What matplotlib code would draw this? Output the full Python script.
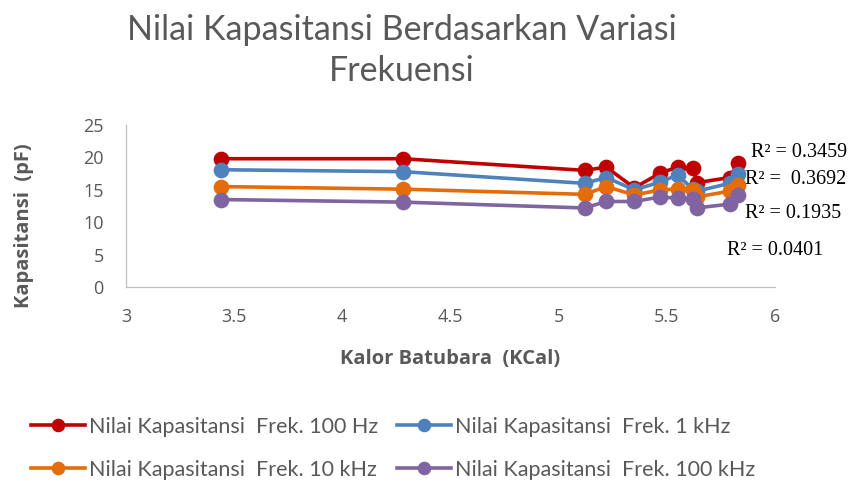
import matplotlib

matplotlib.use("Agg")
import matplotlib.pyplot as plt

# calorific value (KCal) and capacitance (pF) per frequency
kalor = [3.44, 4.28, 5.12, 5.22, 5.35, 5.47, 5.55, 5.62, 5.64, 5.79, 5.83]
cap_100hz = [19.8, 19.8, 18.0, 18.5, 15.3, 17.6, 18.5, 18.3, 16.1, 16.9, 19.2]
cap_1khz = [18.1, 17.8, 16.0, 16.9, 15.0, 16.2, 17.3, 15.1, 14.8, 16.0, 17.5]
cap_10khz = [15.5, 15.1, 14.3, 15.5, 14.2, 15.0, 15.1, 15.0, 13.9, 14.8, 15.7]
cap_100khz = [13.5, 13.1, 12.2, 13.2, 13.2, 13.9, 13.7, 13.6, 12.2, 12.8, 14.2]

labels = ["Nilai Kapasitansi  Frek. 100 Hz", "Nilai Kapasitansi  Frek. 1 kHz",
          "Nilai Kapasitansi  Frek. 10 kHz", "Nilai Kapasitansi  Frek. 100 kHz"]
r2_text = ["R² = 0.3459", "R² =  0.3692", "R² = 0.1935", "R² = 0.0401"]
colors = ["#C00000", "#4F81BD", "#E46C0A", "#8064A2"]

plt.rcParams["font.family"] = ["Open Sans", "DejaVu Sans"]
grey = "#595959"

fig = plt.figure(figsize=(8.61, 4.84), dpi=100)
ax = fig.add_axes([0.1463, 0.407, 0.7538, 0.3347])

series = [cap_100hz, cap_1khz, cap_10khz, cap_100khz]
handles = []
for vals, lab, c in zip(series, labels, colors):
    h, = ax.plot(kalor, vals, color=c, lw=2.6, marker="o", ms=10.3, label=lab)
    handles.append(h)

ax.set_xlim(3, 6)
ax.set_ylim(0, 25)
ax.set_xticks([3, 3.5, 4, 4.5, 5, 5.5, 6])
ax.set_xticklabels(["3", "3.5", "4", "4.5", "5", "5.5", "6"])
ax.set_yticks([0, 5, 10, 15, 20, 25])
ax.tick_params(colors=grey, labelsize=13, length=0)
ax.tick_params(axis="x", pad=15)
ax.tick_params(axis="y", pad=16)
for s in ["top", "right"]:
    ax.spines[s].set_visible(False)
for s in ["left", "bottom"]:
    ax.spines[s].set_color("#BFBFBF")
    ax.spines[s].set_linewidth(0.9)

ax.set_xlabel("Kalor Batubara  (KCal)", fontsize=14.5, fontweight="bold", color=grey)
ax.set_ylabel("Kapasitansi  (pF)", fontsize=14.5, fontweight="bold", color=grey)
ax.xaxis.set_label_coords(0.5, -0.385)
ax.yaxis.set_label_coords(-0.142, 0.38)

# trendline R² labels
r2_pos = [(5.89, 20.8), (5.86, 16.6), (5.86, 11.4), (5.78, 5.6)]
for (xp, yp), t in zip(r2_pos, r2_text):
    ax.text(xp, yp, t, fontsize=14.5, family="Liberation Serif", color="black",
            va="center", ha="left", clip_on=False)

fig.text(0.467, 0.938, "Nilai Kapasitansi Berdasarkan Variasi", ha="center", va="center",
         fontsize=24.5, color=grey, family="Lato")
fig.text(0.467, 0.853, "Frekuensi", ha="center", va="center", fontsize=24.5, color=grey,
         family="Lato")

# legend entries, row by row
leg_pos = [(31, 427), (397, 427), (31, 470), (397, 470)]
for h, (px, py) in zip(handles, leg_pos):
    fig.legend(handles=[h], loc="center left",
               bbox_to_anchor=(px / 861, 1 - py / 484), frameon=False,
               borderpad=0, borderaxespad=0, handlelength=2.5,
               handletextpad=0.2, markerscale=0.85, labelcolor=grey,
               prop={"family": "Lato", "size": 15.5})

fig.savefig("out.png", dpi=100)
